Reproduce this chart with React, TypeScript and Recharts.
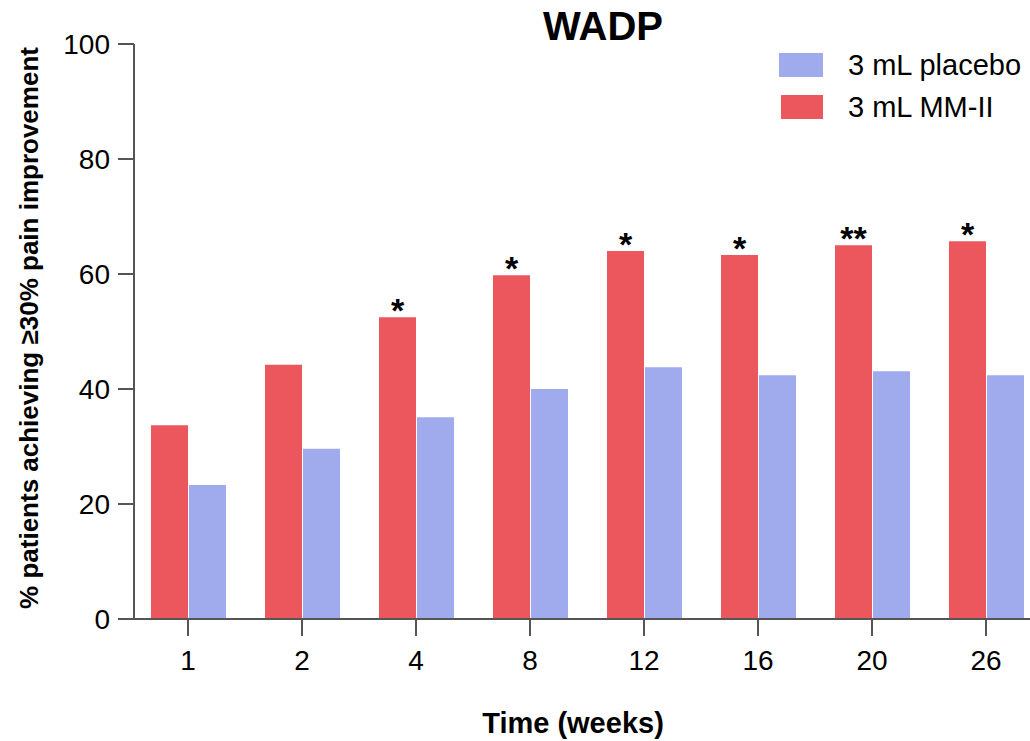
import React from "react";
import {
  BarChart,
  Bar,
  XAxis,
  YAxis,
  LabelList,
} from "recharts";

const weeks = ["1", "2", "4", "8", "12", "16", "20", "26"];
const mmValues = [33.7, 44.2, 52.5, 59.8, 64.0, 63.3, 65.0, 65.7];
const placeboValues = [23.3, 29.6, 35.1, 40.0, 43.8, 42.4, 43.1, 42.4];
const significance = ["", "", "*", "*", "*", "*", "**", "*"];
const yTicks = [0, 20, 40, 60, 80, 100];

const RED = "#EC575E";
const BLUE = "#9FABEC";
const AXIS = "#555555";
const FONT = "'Liberation Sans', Arial, sans-serif";

const data = weeks.map((w, i) => ({
  week: w,
  mm: mmValues[i],
  placebo: placeboValues[i],
  sig: significance[i],
}));

function StarLabel(props: any) {
  const { x, y, width, value } = props;
  if (!value) return null;
  return (
    <text
      x={x + width / 2}
      y={y + 5}
      textAnchor="middle"
      fontSize={34}
      fontWeight="bold"
      fill="#000"
    >
      {value}
    </text>
  );
}

export default function App(): React.ReactElement {
  return (
    <div
      style={{
        position: "fixed",
        left: 0,
        top: 0,
        width: 1030,
        height: 741,
        overflow: "hidden",
        background: "#fff",
        fontFamily: FONT,
      }}
    >
      <BarChart
        width={1100}
        height={741}
        data={data}
        margin={{ top: 44, right: 57, left: 0, bottom: 62 }}
        barGap={1}
      >
        <XAxis
          dataKey="week"
          height={60}
          padding={{ left: -3, right: 0 }}
          axisLine={{ stroke: AXIS, strokeWidth: 2 }}
          tickLine={{ stroke: AXIS, strokeWidth: 2 }}
          tickSize={17}
          tickMargin={14}
          tick={{ fontSize: 28, fill: "#000" }}
          interval={0}
        />
        <YAxis
          width={134}
          domain={[0, 100]}
          ticks={yTicks}
          axisLine={{ stroke: AXIS, strokeWidth: 2 }}
          tickLine={{ stroke: AXIS, strokeWidth: 2 }}
          tickSize={16}
          tickMargin={8}
          tick={{ fontSize: 28, fill: "#000" }}
        />
        <Bar dataKey="mm" name="3 mL MM-II" fill={RED} barSize={37} isAnimationActive={false}>
          <LabelList dataKey="sig" content={StarLabel} />
        </Bar>
        <Bar dataKey="placebo" name="3 mL placebo" fill={BLUE} barSize={37} isAnimationActive={false} />
      </BarChart>
      <svg
        width={1030}
        height={741}
        style={{ position: "absolute", left: 0, top: 0, pointerEvents: "none" }}
      >
        <text x={603} y={40} textAnchor="middle" fontSize={40} fontWeight="bold" fill="#000">
          WADP
        </text>
        <rect x={779} y={53} width={44} height={24} fill={BLUE} />
        <text x={848} y={75} fontSize={29} fill="#000">
          3 mL placebo
        </text>
        <rect x={781} y={95} width={42} height={24} fill={RED} />
        <text x={848} y={117} fontSize={29} fill="#000">
          3 mL MM-II
        </text>
        <text x={573} y={733} textAnchor="middle" fontSize={29} fontWeight="bold" fill="#000">
          Time (weeks)
        </text>
        <text
          x={38}
          y={328}
          textAnchor="middle"
          fontSize={26}
          fontWeight="bold"
          fill="#000"
          transform="rotate(-90 38 328)"
        >
          % patients achieving ≥30% pain improvement
        </text>
      </svg>
    </div>
  );
}
